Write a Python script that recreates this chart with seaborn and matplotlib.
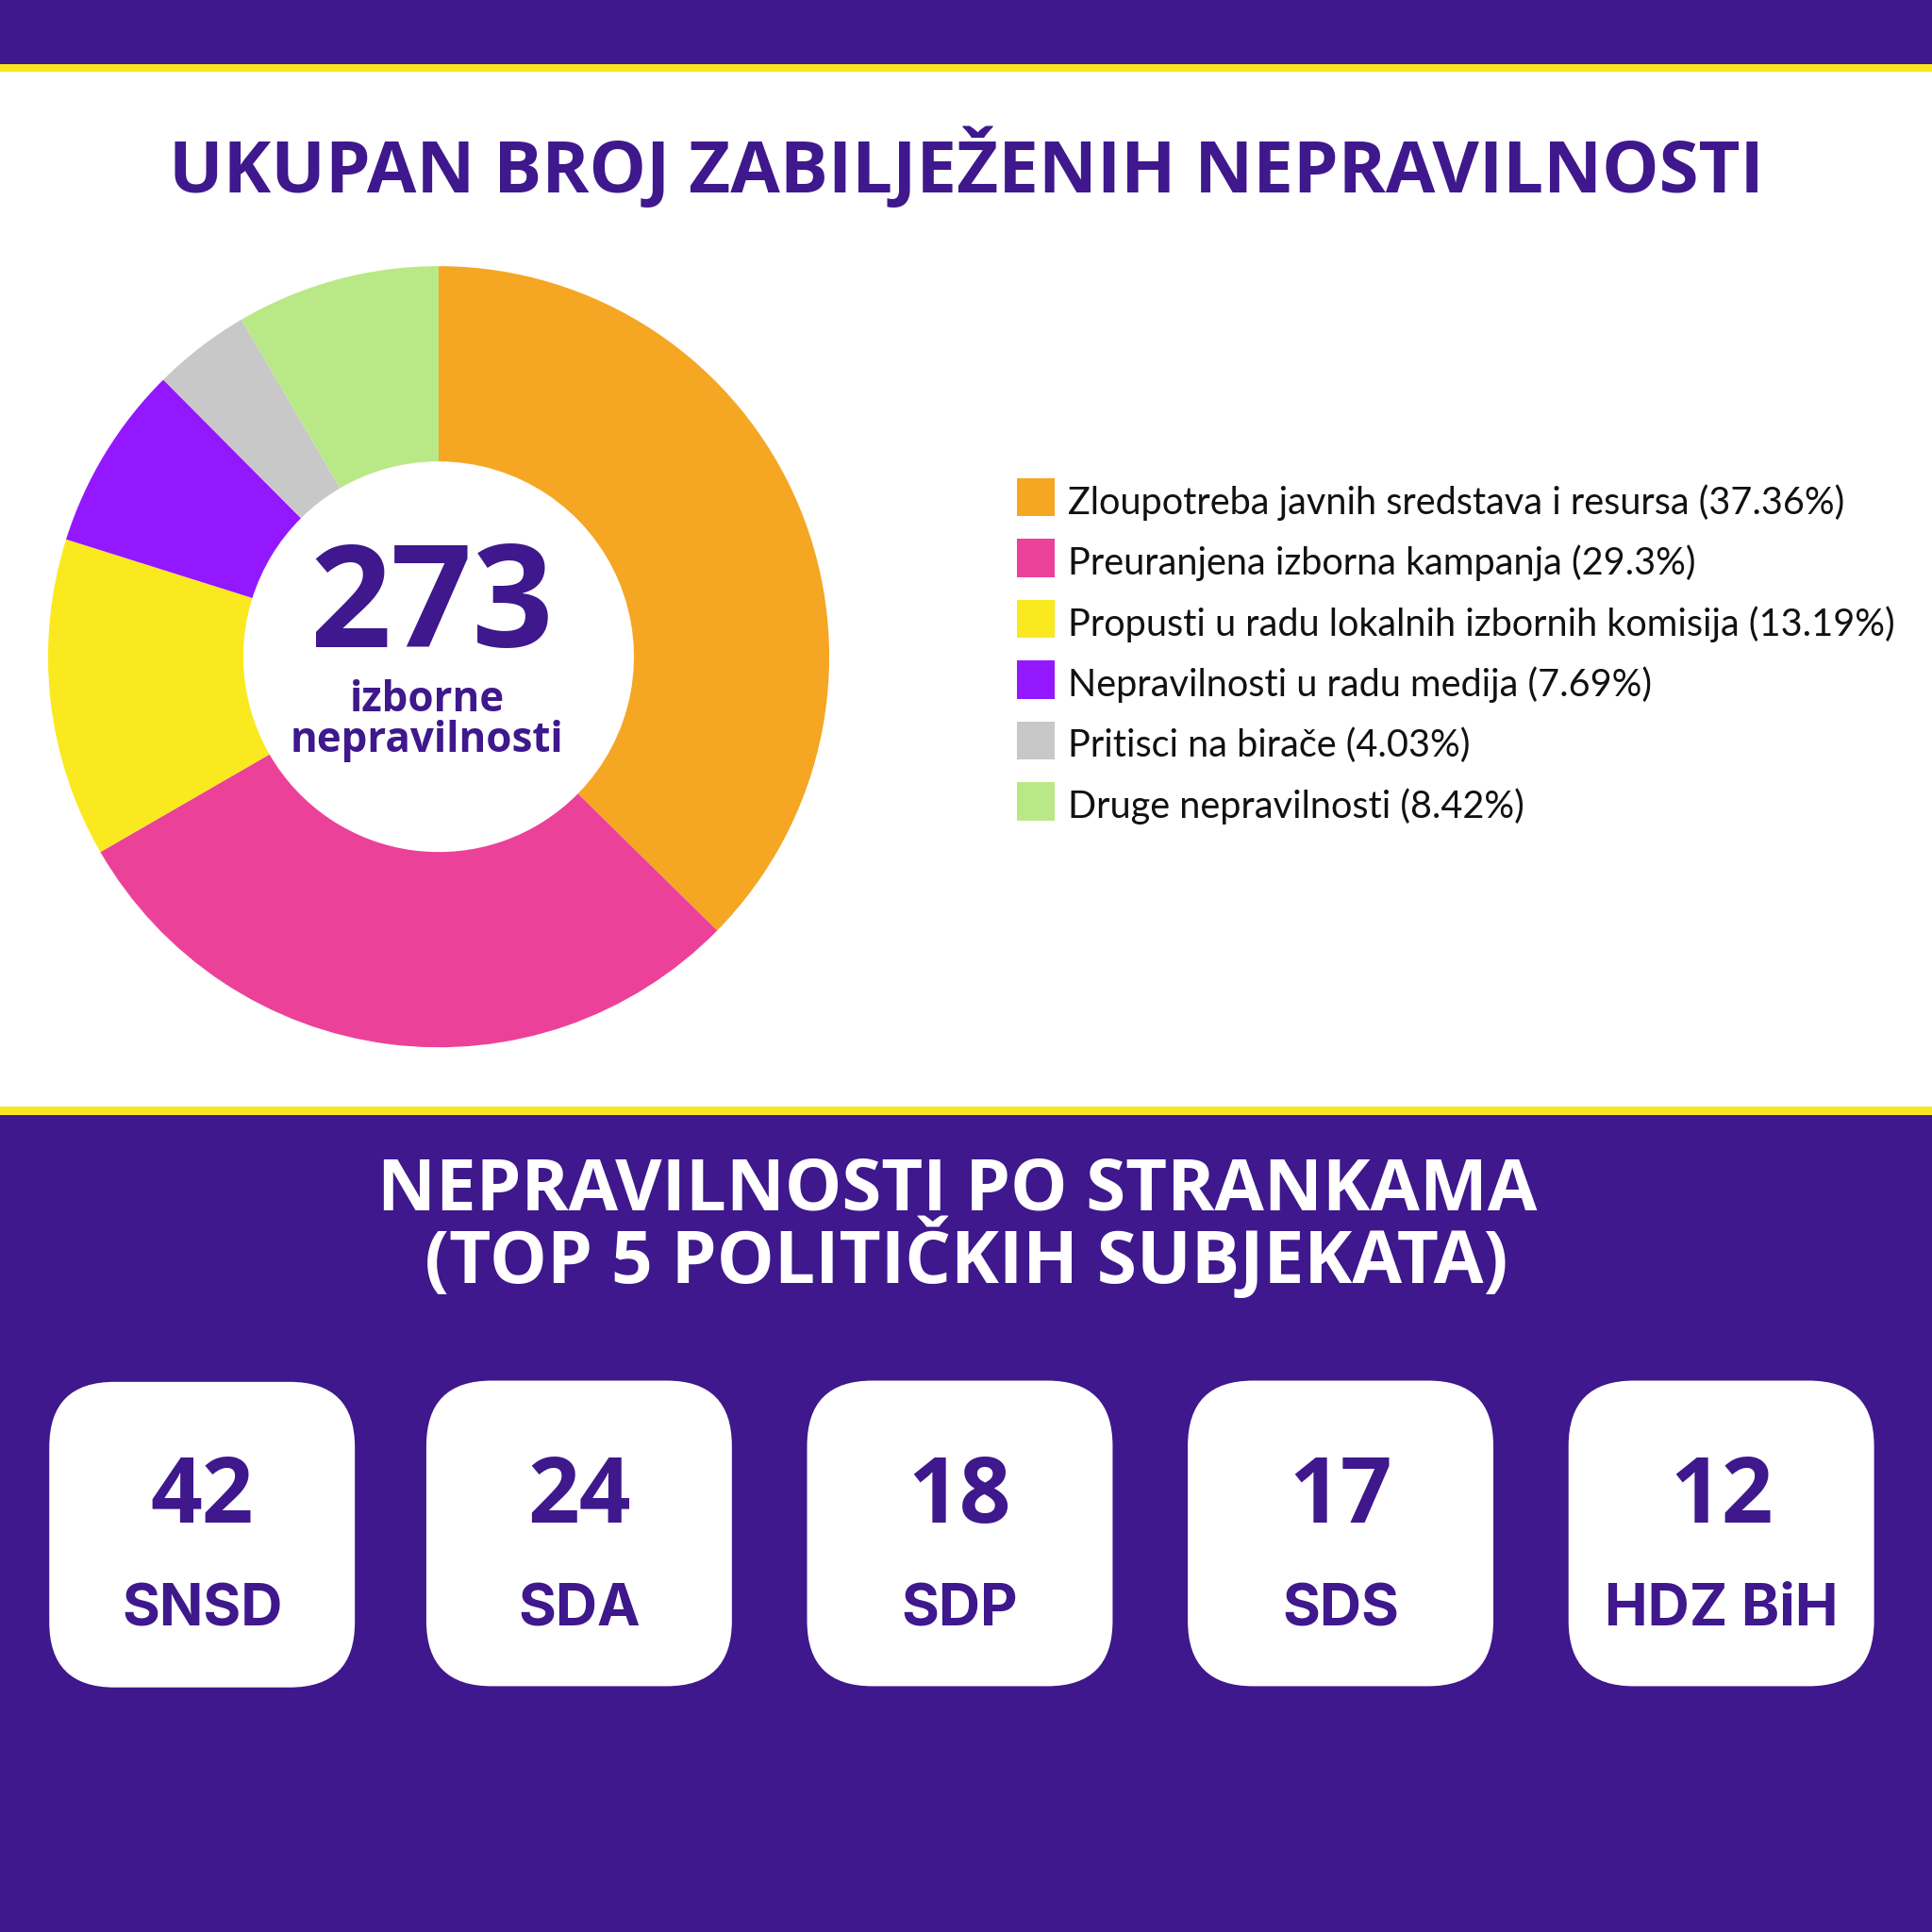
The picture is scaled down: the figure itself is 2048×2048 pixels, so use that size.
import matplotlib
matplotlib.use("Agg")
import matplotlib.pyplot as plt
from matplotlib.patches import FancyBboxPatch, Rectangle
import seaborn as sns

sns.set_theme(style="white")
plt.rcParams['font.family'] = ['Open Sans', 'DejaVu Sans']

title_top = "UKUPAN BROJ ZABILJEŽENIH NEPRAVILNOSTI"
title_bottom_1 = "NEPRAVILNOSTI PO STRANKAMA"
title_bottom_2 = "(TOP 5 POLITIČKIH SUBJEKATA)"
total_value = "273"
total_label = "izborne\nnepravilnosti"
categories = ["Zloupotreba javnih sredstava i resursa", "Preuranjena izborna kampanja",
              "Propusti u radu lokalnih izbornih komisija", "Nepravilnosti u radu medija",
              "Pritisci na birače", "Druge nepravilnosti"]
shares = [37.36, 29.3, 13.19, 7.69, 4.03, 8.42]
share_labels = ["37.36", "29.3", "13.19", "7.69", "4.03", "8.42"]
palette = ["#F5A623", "#EC4199", "#FAE91F", "#9318FF", "#C8C8C8", "#B9E986"]
parties = ["SNSD", "SDA", "SDP", "SDS", "HDZ BiH"]
party_counts = [42, 24, 18, 17, 12]

PURPLE = "#3E188C"
YELLOW = "#FAE61E"
W = 1568.0

fig = plt.figure(figsize=(10.24, 10.24), dpi=200, facecolor="white")
bg = fig.add_axes([0, 0, 1, 1], zorder=0)
bg.set_xlim(0, W); bg.set_ylim(W, 0); bg.axis("off")

bg.add_patch(Rectangle((0, 0), W, 52, fc=PURPLE, ec="none"))
bg.add_patch(Rectangle((0, 52), W, 6, fc=YELLOW, ec="none"))
bg.add_patch(Rectangle((0, 898), W, 7, fc=YELLOW, ec="none"))
bg.add_patch(Rectangle((0, 905), W, W - 905, fc=PURPLE, ec="none"))

bg.text(784, 136.5, title_top, ha="center", va="center", color=PURPLE, fontsize=27.4, fontweight="bold")
bg.text(777, 967, title_bottom_1, ha="center", va="center", color="white", fontsize=27.4, fontweight="bold")
bg.text(784, 1022, title_bottom_2, ha="center", va="center", color="white", fontsize=27.6, fontweight="bold")

# donut
cx, cy, R = 356, 533, 317
ax = fig.add_axes([(cx - R) / W, 1 - (cy + R) / W, 2 * R / W, 2 * R / W], zorder=1)
ax.pie(shares, colors=sns.color_palette(palette), startangle=90, counterclock=False, radius=1,
       wedgeprops=dict(width=0.5, linewidth=0))
ax.set_xlim(-1, 1); ax.set_ylim(-1, 1); ax.set_aspect("equal")

ov = fig.add_axes([0, 0, 1, 1], zorder=2)
ov.set_xlim(0, W); ov.set_ylim(W, 0); ov.axis("off"); ov.patch.set_alpha(0)

ov.text(350.5, 495, total_value, ha="center", va="center", color=PURPLE, fontsize=54.4, fontweight="bold")
ov.text(346.5, 585, total_label, ha="center", va="center", color=PURPLE, fontsize=15.8, fontweight="bold",
        linespacing=0.95)

# legend
for i, (c, s, col) in enumerate(zip(categories, share_labels, palette)):
    y = 404 + i * 49.4
    ov.add_patch(Rectangle((825, y - 16), 31, 31, fc=col, ec="none"))
    ov.text(867, y + 3.5, f"{c} ({s}%)", ha="left", va="center", color="#111111", fontsize=14.27, family="Lato")

# cards
card_x = [40, 346, 655, 964, 1273]
card_y = [1121.5, 1120.5, 1120.5, 1120.5, 1120.5]
for x, y0, n, p in zip(card_x, card_y, party_counts, parties):
    ov.add_patch(FancyBboxPatch((x + 53, y0 + 53), 248 - 106, 248 - 106,
                                boxstyle="round,pad=53,rounding_size=53", fc="white", ec="none",
                                mutation_aspect=1))
    ov.text(x + 124, 1216, str(n), ha="center", va="center", color=PURPLE, fontsize=34.5, fontweight="bold")
    ov.text(x + 124, 1307, p, ha="center", va="center", color=PURPLE, fontsize=22, fontweight="bold", family="Inter")

fig.savefig("out.png", dpi=200)
